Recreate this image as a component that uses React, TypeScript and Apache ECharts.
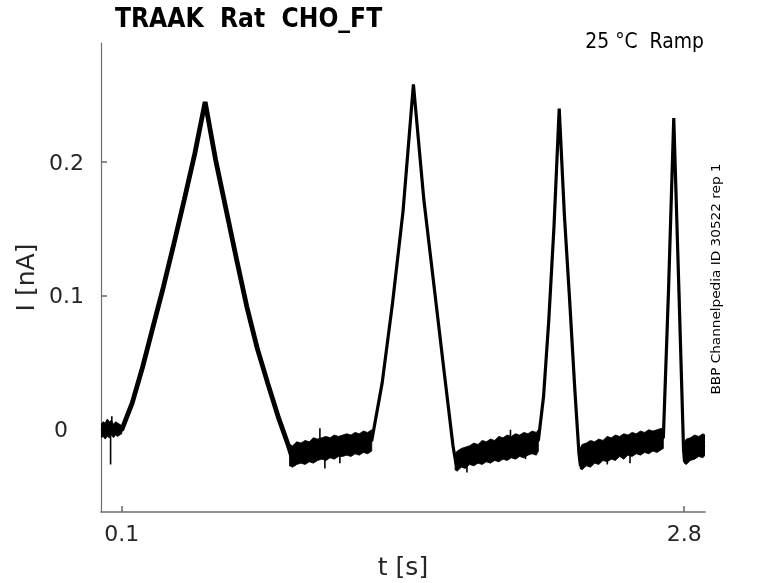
import React, { useEffect, useRef } from "react";
import * as echarts from "echarts";

// ---- tick values ----
const X_TICKS = [0.1, 2.8];
const Y_TICKS = [0, 0.1, 0.2];

// ---- main current trace (t [s], I [nA]) ----
const traceRamp1: number[][] = [
  [0.0, -0.001], [0.1, 0.0], [0.15, 0.02], [0.2, 0.047], [0.25, 0.077],
  [0.3, 0.107], [0.35, 0.139], [0.4, 0.172], [0.45, 0.206], [0.5, 0.245],
  [0.55, 0.202], [0.6, 0.165], [0.65, 0.128], [0.7, 0.092], [0.75, 0.061],
  [0.8, 0.035], [0.85, 0.01], [0.9, -0.012], [0.92, -0.022],
];
const traceRest: number[][] = [
  [0.92, -0.022], [0.96, -0.0175], [1.1, -0.0135], [1.3, -0.008],
  [1.35, 0.035], [1.4, 0.095], [1.45, 0.163], [1.5, 0.258],
  [1.55, 0.172], [1.6, 0.106], [1.65, 0.04], [1.69, -0.012], [1.705, -0.026],
  [1.75, -0.021], [1.9, -0.0155], [2.1, -0.008],
  [2.125, 0.025], [2.15, 0.082], [2.175, 0.152], [2.2, 0.24],
  [2.225, 0.16], [2.25, 0.097], [2.275, 0.03], [2.295, -0.018], [2.302, -0.027],
  [2.35, -0.018], [2.5, -0.013], [2.7, -0.006],
  [2.725, 0.105], [2.75, 0.233], [2.775, 0.103], [2.797, -0.015], [2.802, -0.024],
  [2.85, -0.013], [2.9, -0.0115],
];

// ---- noisy baseline envelopes: [t, upper I, lower I] ----
const baselineA: number[][] = [
  [0.0, 0.004, -0.006], [0.01, 0.006, -0.005], [0.02, 0.005, -0.007], [0.03, 0.008, -0.005],
  [0.04, 0.006, -0.006], [0.05, 0.007, -0.004], [0.06, 0.004, -0.006], [0.07, 0.006, -0.004],
  [0.08, 0.005, -0.005], [0.09, 0.004, -0.004], [0.1, 0.003, -0.003],
];
const baselineB: number[][] = [
  [0.905, -0.011, -0.027], [0.92, -0.012, -0.028], [0.94, -0.009, -0.026], [0.96, -0.01, -0.025],
  [0.98, -0.008, -0.026], [1.0, -0.009, -0.024], [1.02, -0.006, -0.025], [1.04, -0.007, -0.023],
  [1.06, -0.006, -0.022], [1.08, -0.005, -0.023], [1.1, -0.006, -0.021], [1.12, -0.004, -0.022],
  [1.14, -0.005, -0.02], [1.16, -0.004, -0.02], [1.18, -0.003, -0.019], [1.2, -0.004, -0.02],
  [1.22, -0.002, -0.018], [1.24, -0.003, -0.019], [1.26, -0.001, -0.017], [1.28, -0.002, -0.018],
  [1.3, 0.0, -0.016],
];
const baselineC: number[][] = [
  [1.7, -0.018, -0.03], [1.71, -0.016, -0.031], [1.73, -0.014, -0.028], [1.75, -0.013, -0.029],
  [1.77, -0.012, -0.026], [1.79, -0.01, -0.027], [1.81, -0.011, -0.025], [1.83, -0.008, -0.026],
  [1.85, -0.009, -0.024], [1.87, -0.007, -0.025], [1.89, -0.008, -0.023], [1.91, -0.005, -0.024],
  [1.93, -0.006, -0.022], [1.95, -0.004, -0.023], [1.97, -0.005, -0.021], [1.99, -0.003, -0.022],
  [2.01, -0.004, -0.02], [2.03, -0.002, -0.021], [2.05, -0.003, -0.019], [2.07, -0.001, -0.018],
  [2.09, -0.002, -0.019], [2.1, 0.0, -0.016],
];
const baselineD: number[][] = [
  [2.3, -0.014, -0.029], [2.31, -0.011, -0.03], [2.33, -0.01, -0.027], [2.35, -0.008, -0.028],
  [2.37, -0.009, -0.025], [2.39, -0.007, -0.026], [2.41, -0.008, -0.023], [2.43, -0.005, -0.024],
  [2.45, -0.006, -0.022], [2.47, -0.004, -0.023], [2.49, -0.005, -0.02], [2.51, -0.003, -0.022],
  [2.53, -0.004, -0.019], [2.55, -0.002, -0.02], [2.57, -0.003, -0.018], [2.59, -0.001, -0.019],
  [2.61, -0.002, -0.017], [2.63, 0.0, -0.018], [2.65, -0.001, -0.016], [2.67, 0.0, -0.017],
  [2.69, 0.001, -0.015], [2.7, 0.0, -0.014],
];
const baselineE: number[][] = [
  [2.8, -0.01, -0.025], [2.81, -0.007, -0.026], [2.83, -0.006, -0.023], [2.85, -0.004, -0.022],
  [2.87, -0.005, -0.02], [2.89, -0.003, -0.021], [2.9, -0.004, -0.019],
];
const BANDS = [baselineA, baselineB, baselineC, baselineD, baselineE];

// ---- isolated noise spikes: [t, low I, high I] ----
const spikes: number[][] = [
  [0.046, -0.026, 0.002], [0.052, -0.004, 0.01], [1.051, -0.01, 0.001], [1.075, -0.029, -0.018],
  [1.147, -0.025, -0.015], [1.757, -0.032, -0.022], [1.966, -0.012, 0.0], [2.038, -0.022, -0.012],
  [2.431, -0.026, -0.016], [2.54, -0.025, -0.015],
];

const FONT = "DejaVu Sans";

export default function App() {
  const ref = useRef<HTMLDivElement>(null);
  useEffect(() => {
    if (!ref.current) return;
    const chart = echarts.init(ref.current, undefined, { renderer: "svg" });
    const axisColor = "#6e6e6e";
    const labelColor = "#262626";
    chart.setOption({
      animation: false,
      grid: { left: 101, top: 43, right: 73, bottom: 71, containLabel: false, outerBoundsMode: "none" },
      xAxis: {
        type: "value",
        min: 0,
        max: 2.9,
        name: "t [s]",
        nameLocation: "middle",
        nameGap: 42,
        nameTextStyle: { fontFamily: FONT, fontSize: 25, color: labelColor },
        axisLine: { show: true, onZero: false, lineStyle: { color: axisColor, width: 1.6 } },
        axisTick: { show: true, inside: true, length: 6, customValues: X_TICKS, lineStyle: { color: axisColor, width: 1.6 } },
        axisLabel: {
          customValues: X_TICKS,
          fontFamily: FONT,
          fontSize: 22,
          color: labelColor,
          margin: 10,
          formatter: (v: number) => String(v),
        },
        splitLine: { show: false },
      },
      yAxis: {
        type: "value",
        min: -0.0615,
        max: 0.289,
        name: "I [nA]",
        nameLocation: "middle",
        nameGap: 58,
        nameRotate: 90,
        nameTextStyle: { fontFamily: FONT, fontSize: 25, color: labelColor },
        axisLine: { show: true, onZero: false, lineStyle: { color: axisColor, width: 1.2 } },
        axisTick: { show: true, inside: true, length: 6, customValues: Y_TICKS, lineStyle: { color: axisColor, width: 1.6 } },
        axisLabel: {
          customValues: Y_TICKS,
          fontFamily: FONT,
          fontSize: 22,
          color: labelColor,
          margin: 17,
          formatter: (v: number) => (v === 0 ? "{z|0}" : String(v)),
          rich: { z: { fontFamily: FONT, fontSize: 22, color: labelColor, padding: [0, 16, 0, 0] } },
        },
        splitLine: { show: false },
      },
      graphic: [
        {
          type: "text",
          x: 115,
          y: 18,
          scaleY: 1.1,
          style: {
            text: "TRAAK  Rat  CHO_FT",
            fontFamily: FONT,
            fontWeight: "bold",
            fontSize: 23.5,
            fill: "#000",
            textAlign: "left",
            textVerticalAlign: "middle",
          },
        },
        {
          type: "text",
          x: 704,
          y: 41,
          scaleY: 1.1,
          style: {
            text: "25 °C  Ramp",
            fontFamily: FONT,
            fontSize: 18.8,
            fill: "#000",
            textAlign: "right",
            textVerticalAlign: "middle",
          },
        },
        {
          type: "text",
          x: 716,
          y: 279,
          rotation: Math.PI / 2,
          scaleX: 1.1,
          style: {
            text: "BBP Channelpedia ID 30522 rep 1",
            fontFamily: FONT,
            fontSize: 12.4,
            fill: "#000",
            textAlign: "center",
            textVerticalAlign: "middle",
          },
        },
      ],
      series: [
        {
          type: "custom",
          name: "baseline noise",
          coordinateSystem: "cartesian2d",
          clip: true,
          encode: { x: 0, y: 1 },
          data: BANDS.map((b, i) => [b[0][0], b[0][1], i]),
          renderItem: (params: any, api: any) => {
            const band = BANDS[api.value(2)];
            const top = band.map((p) => api.coord([p[0], p[1]]));
            const bot = band.slice().reverse().map((p) => api.coord([p[0], p[2]]));
            return {
              type: "polygon",
              shape: { points: top.concat(bot) },
              style: { fill: "#000", stroke: "#000", lineWidth: 0.8 },
            };
          },
        },
        {
          type: "custom",
          name: "spikes",
          coordinateSystem: "cartesian2d",
          encode: { x: 0, y: 1 },
          data: spikes,
          renderItem: (params: any, api: any) => {
            const a = api.coord([api.value(0), api.value(1)]);
            const b = api.coord([api.value(0), api.value(2)]);
            return {
              type: "line",
              shape: { x1: a[0], y1: a[1], x2: b[0], y2: b[1] },
              style: { stroke: "#000", lineWidth: 1.6 },
            };
          },
        },
        {
          type: "line",
          name: "ramp 1",
          data: traceRamp1,
          showSymbol: false,
          symbol: "none",
          lineStyle: { color: "#000", width: 4.8, join: "bevel" },
        },
        {
          type: "line",
          name: "ramps 2-4",
          data: traceRest,
          showSymbol: false,
          symbol: "none",
          lineStyle: { color: "#000", width: 3.2, join: "bevel" },
        },
      ],
    });
    return () => chart.dispose();
  }, []);
  return <div ref={ref} style={{ position: "fixed", left: 0, top: 0, width: 778, height: 583 }} />;
}
